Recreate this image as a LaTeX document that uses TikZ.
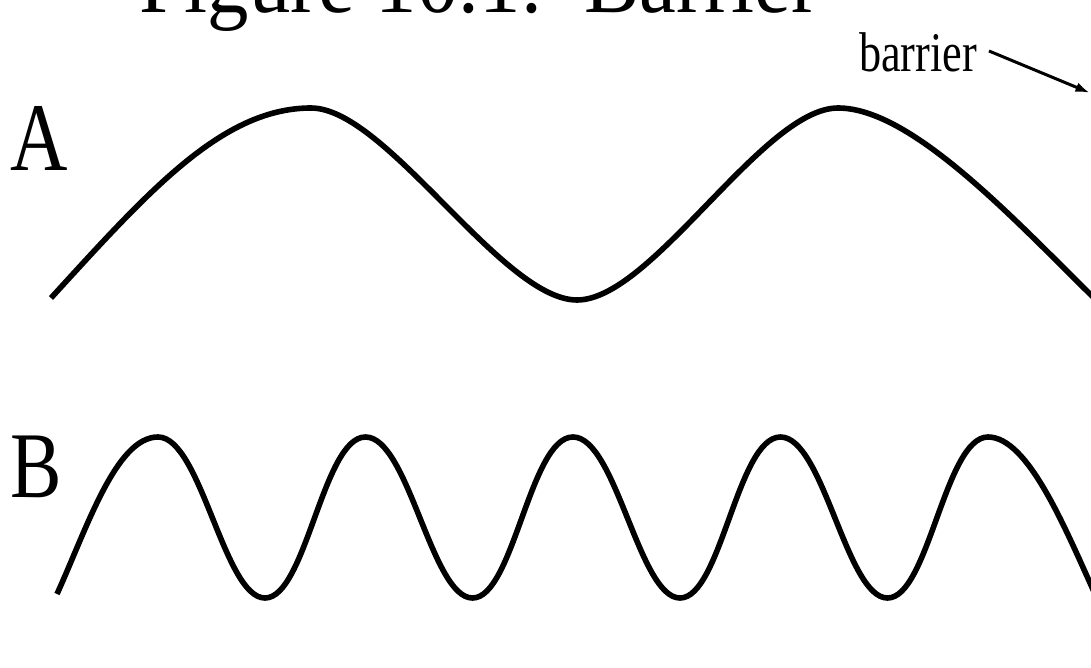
\documentclass[tikz,border=0pt]{standalone}
\usepackage{fontspec}
\setmainfont{Liberation Serif}
\usetikzlibrary{arrows.meta}
\begin{document}
\begin{tikzpicture}[x=1pt,y=-1pt,
  wave/.style={line width=5.6pt, line join=round},
  txt/.style={inner sep=0pt, outer sep=0pt, anchor=base west},
  pointer/.style={line width=3pt, -{Latex[length=14pt,width=10pt]}},
]
\useasboundingbox (0,0) rectangle (1091,668);
\clip (0,0) rectangle (1091,668);
\fill[white] (0,0) rectangle (1091,668);

% texts
\node[txt] (title) at (139,12.7) {\fontsize{88}{88}\selectfont\scalebox{0.94}[1]{Figure 10.1:\ \ Barrier}};
\node[txt] (barrier) at (859,72) {\fontsize{56}{56}\selectfont\scalebox{0.79}[1]{barrier}};
\node[txt] (lblA) at (10,171) {\fontsize{97}{97}\selectfont\scalebox{0.82}[1]{A}};
\node[txt] (lblB) at (10.5,497) {\fontsize{94}{94}\selectfont\scalebox{0.82}[1]{B}};

% arrow
\coordinate (arrowstart) at (989,51);
\coordinate (arrowtip) at (1089.5,92.7);
\draw[pointer] (arrowstart) -- (arrowtip);

% wave A
\draw[wave] (51,298) .. controls (148,192) and (222,108) .. (311,108)
  .. controls (386,108) and (502,300) .. (577,300)
  .. controls (652,300) and (763,108) .. (838,108)
  .. controls (910,108) and (1010,215) .. (1091,295)
  -- (1100,304);

% wave B
\draw[wave] (57,594) .. controls (87,528) and (116,437) .. (158,437)
  .. controls (201,437) and (224,598) .. (265,598)
  .. controls (306,598) and (323,437) .. (365.5,437)
  .. controls (408.5,437) and (431.5,598) .. (472.5,598)
  .. controls (513.5,598) and (530,437) .. (573,437)
  .. controls (616,437) and (639,598) .. (680,598)
  .. controls (721,598) and (737.5,437) .. (780.5,437)
  .. controls (823.5,437) and (846.5,598) .. (887.5,598)
  .. controls (928.5,598) and (945,437) .. (988,437)
  .. controls (1028,437) and (1065,528) .. (1095,594);
\end{tikzpicture}
\end{document}
